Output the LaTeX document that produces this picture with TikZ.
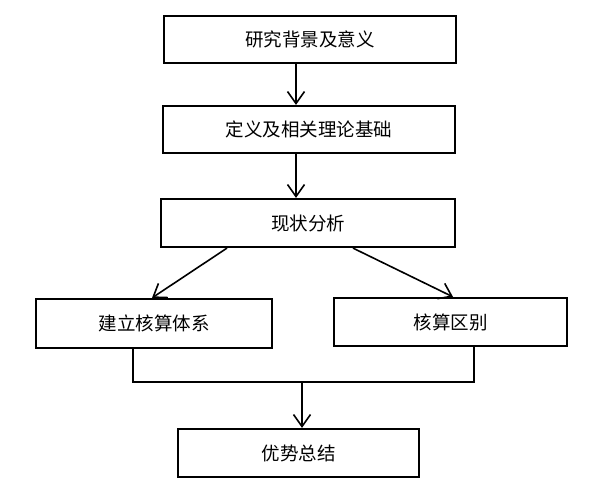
\documentclass[tikz,border=0pt]{standalone}
\usepackage{fontspec}
\newfontfamily\cjk{Noto Sans CJK SC}
\usepackage{tikz}
\usetikzlibrary{arrows.meta,positioning}
\tikzset {
	stage/.style={rectangle, draw, line width=2.2pt, inner sep=0pt, minimum height=47pt,
					font=\cjk\fontsize{18.5}{21}\selectfont},
	wideStage/.style={stage, minimum width=292pt},
	flow/.style={line width=1.6pt, -{Straight Barb[length=12pt,width=17pt,line width=1.6pt]}},
	mergeLine/.style={line width=2.2pt}
}

\begin{document}
\begin{tikzpicture}[x=1pt, y=-1pt]
					\useasboundingbox (0,0) rectangle (594,484);
					\node [wideStage] (background) at (310,39.5) {研究背景及意义};
					\node [wideStage] (theory) at (309,129.5) {定义及相关理论基础};
					\node [wideStage, minimum width=294pt, minimum height=48pt] (status) at (308,223) {现状分析};
					\node [stage, minimum width=236pt, minimum height=49pt] (system) at (154,323.5) {建立核算体系};
					\node [stage, minimum width=233pt, minimum height=48pt] (difference) at (450.5,322) {核算区别};
					\node [stage, minimum width=241pt, minimum height=48pt] (summary) at (298.5,453) {优势总结};
					\coordinate (merge) at (302,382);
					\draw [flow] ([xshift=-14pt]background.south) -- ([xshift=-13pt]theory.north);
					\draw [flow] ([xshift=-13pt]theory.south) -- ([xshift=-12pt]status.north);
					\draw [flow] ([xshift=-81pt]status.south) -- ([xshift=-2pt]system.north);
					\draw [flow] ([xshift=45pt]status.south) -- ([xshift=2.5pt]difference.north);
					\draw [mergeLine] ([xshift=-21pt]system.south) |- (merge) -| ([xshift=23.5pt]difference.south);
					\draw [flow] (merge) -- (merge |- summary.north);
					\end{tikzpicture}
\end{document}
